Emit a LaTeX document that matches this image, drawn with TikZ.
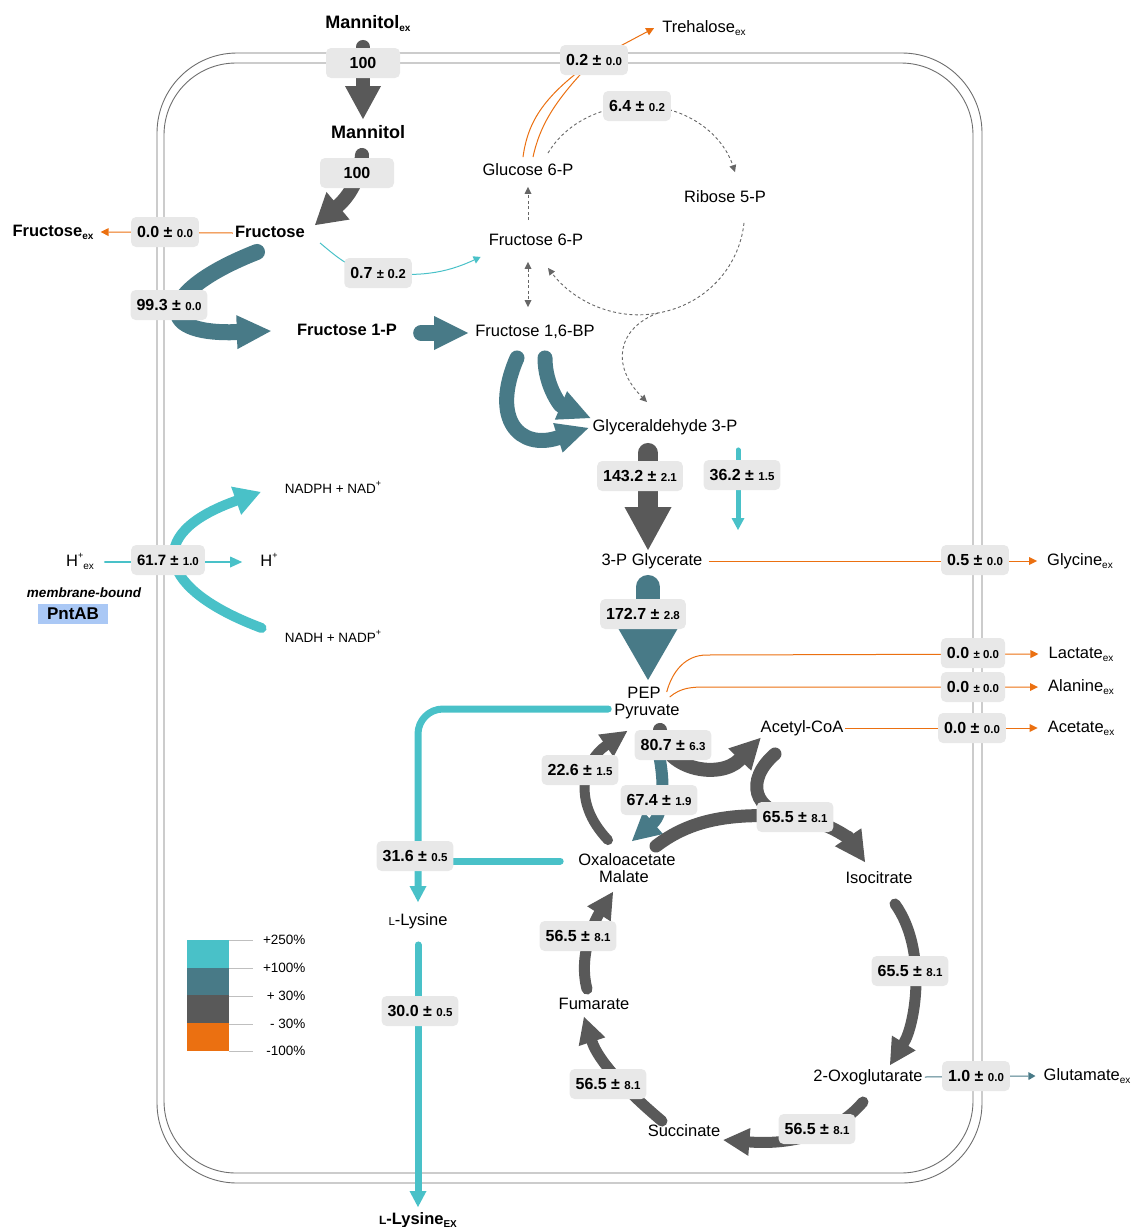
\documentclass[tikz,border=0pt]{standalone}
\usepackage{fontspec}
\setmainfont{Liberation Sans}
\usetikzlibrary{arrows.meta,calc,positioning}
\definecolor{flowgray}{RGB}{89,89,89}
\definecolor{flowteal}{RGB}{72,122,135}
\definecolor{flowcyan}{RGB}{73,193,200}
\definecolor{floworange}{RGB}{235,112,17}
\definecolor{boxgray}{RGB}{232,232,232}
\definecolor{pntblue}{RGB}{170,200,245}
\definecolor{wallgray}{RGB}{110,110,110}
\newcommand{\lo}[1]{\raisebox{-0.35ex}{\fontsize{10}{10}\selectfont #1}}
\newcommand{\hi}[1]{\raisebox{0.9ex}{\fontsize{9}{9}\selectfont #1}}
\newcommand{\fx}[2]{#1 ± {\fontsize{11.5}{12}\selectfont #2}}
\newcommand{\fxs}[2]{#1 {\fontsize{11.5}{12}\selectfont ± #2}}
\tikzset{
    metab/.style={
        inner sep=2pt,
        text height=12pt,
        text depth=3.5pt,
        font=\fontsize{16.5}{18}\selectfont
    },
    metabbold/.style={
        metab,
        font=\bfseries\fontsize{16.5}{18}\selectfont
    },
    metabbig/.style={
        metab,
        font=\bfseries\fontsize{18}{20}\selectfont
    },
    cofactor/.style={
        metab,
        font=\fontsize{13.5}{15}\selectfont
    },
    fluxbox/.style={
        fill=boxgray,
        rounded corners=5pt,
        minimum height=30pt,
        inner xsep=6pt,
        inner ysep=0pt,
        font=\bfseries\fontsize{16}{18}\selectfont
    },
    fathead/.style 2 args={-{Triangle[width=#1,length=#2,line width=0pt]}},
    grayflow/.style={flowgray, line cap=round},
    tealflow/.style={flowteal, line cap=round},
    cyanflow/.style={flowcyan, line cap=round},
    thinorange/.style={floworange, line width=1pt, fathead={8pt}{8pt}},
    dashflow/.style={black!60, line width=0.9pt, dash pattern=on 3pt off 2.5pt},
    membrane/.style={wallgray, line width=0.9pt}
}
\begin{document}
\begin{tikzpicture}[x=1pt,y=1pt]
    \useasboundingbox (0,0) rectangle (1131,-1227);

    % Cell envelope
    \draw[membrane, rounded corners=80pt] (157,-53) rectangle (982,-1183);
    \draw[membrane, rounded corners=72pt] (164,-63) rectangle (973,-1173);

    % Metabolites
    \node[metabbig] (manex) at (368,-24) {Mannitol\lo{ex}};
    \node[metabbig] (man) at (368,-134) {Mannitol};
    \node[metabbold] (fru) at (270,-233) {Fructose};
    \node[metabbold] (fruex) at (53,-232) {Fructose\lo{ex}};
    \node[metabbold] (fr1p) at (347,-331) {Fructose 1-P};
    \node[metab] (f16bp) at (535,-332) {Fructose 1,6-BP};
    \node[metab] (f6p) at (536,-241) {Fructose 6-P};
    \node[metab] (g6p) at (528,-171) {Glucose 6-P};
    \node[metab] (r5p) at (725,-198) {Ribose 5-P};
    \node[metab] (trehex) at (704,-28) {Trehalose\lo{ex}};
    \node[metab] (ga3p) at (665,-427) {Glyceraldehyde 3-P};
    \node[metab] (pg3) at (652,-561) {3-P Glycerate};
    \node[metab] (glyex) at (1080,-561) {Glycine\lo{ex}};
    \node[metab] (pep) at (644,-694) {PEP};
    \node[metab] (pyr) at (647,-711) {Pyruvate};
    \node[metab] (lacex) at (1081,-654) {Lactate\lo{ex}};
    \node[metab] (alaex) at (1081,-687) {Alanine\lo{ex}};
    \node[metab] (accoa) at (802,-728) {Acetyl-CoA};
    \node[metab] (acex) at (1081,-728) {Acetate\lo{ex}};
    \node[metab] (oaa) at (627,-861) {Oxaloacetate};
    \node[metab] (mal) at (624,-878) {Malate};
    \node[metab] (iso) at (879,-879) {Isocitrate};
    \node[metab] (og) at (868,-1077) {2-Oxoglutarate};
    \node[metab] (succ) at (684,-1132) {Succinate};
    \node[metab] (fum) at (594,-1005) {Fumarate};
    \node[metab] (gluex) at (1087,-1076) {Glutamate\lo{ex}};
    \node[metab] (lys) at (418,-921) {{\fontsize{11.5}{12}\selectfont L}-Lysine};
    \node[metabbold] (lysex) at (418,-1220) {{\fontsize{12}{12}\selectfont L}-Lysine\lo{EX}};

    % Transhydrogenase
    \node[metab] (hex) at (80,-562) {H\hi{+}\lo{ex}};
    \node[metab] (hin) at (269,-562) {H\hi{+}};
    \node[cofactor] (nadph) at (333,-489) {NADPH + NAD\hi{+}};
    \node[cofactor] (nadh) at (333,-638) {NADH + NADP\hi{+}};
    \node[font=\bfseries\itshape\fontsize{13.5}{15}\selectfont] (memb) at (84,-593) {membrane-bound};
    \node[fill=pntblue, minimum width=70pt, minimum height=20pt, inner sep=0pt,
          font=\bfseries\fontsize{17}{18}\selectfont] (pnt) at (73,-614) {PntAB};

    % Box positions
    \coordinate (c07) at (378,-273);
    \coordinate (c02) at (594,-60);
    \coordinate (c64) at (637,-106);
    \coordinate (c655) at (795,-817);
    \coordinate (c316) at (415,-856);
    \coordinate (pppjoin) at (658,-313);
    \coordinate (gsink) at (738,-530);

    % Uptake and upper glycolysis
    \draw[grayflow, line width=14pt, fathead={36pt}{33pt}] ($(manex.south)+(-5,-13)$) -- ($(man.north)+(-5,5)$);
    \draw[grayflow, line width=14pt, fathead={36pt}{30pt}] ($(man.south)+(-6,-11)$) to[out=-95,in=40] ($(fru.north east)+(8,-2)$);
    \draw[thinorange] (fru.west) -- ($(fruex.east)+(5,0)$);
    \draw[flowcyan, line width=1pt, fathead={8pt}{7pt}] ($(fru.south east)+(13,0)$) to[out=-40,in=175] (c07) to[out=-5,in=205] ($(f6p.south west)+(-6,-6)$);
    \draw[tealflow, line width=16pt, fathead={34pt}{34pt}] ($(fru.south)+(-13,-9)$) .. controls (160,-290) and (150,-335) .. ($(fr1p.west)+(-24,0)$);
    \draw[tealflow, line width=16pt, fathead={34pt}{34pt}] ($(fr1p.east)+(22,-2)$) -- ($(f16bp.west)+(-5,-1)$);
    \draw[tealflow, line width=15pt, fathead={31pt}{32pt}] ($(f16bp.south)+(-18,-16)$) .. controls (490,-420) and (520,-450) .. ($(ga3p.west)+(-2,-1)$);
    \draw[tealflow, line width=15pt, fathead={31pt}{32pt}] ($(f16bp.south)+(10,-16)$) .. controls (545,-385) and (560,-405) .. ($(ga3p.west)+(0,9)$);

    % Pentose phosphate and trehalose
    \draw[dashflow, fathead={7pt}{7pt}] ($(f6p.north)+(-8,11)$) -- ($(g6p.south)+(0,-6)$);
    \draw[dashflow, {Triangle[width=7pt,length=7pt,line width=0pt]}-{Triangle[width=7pt,length=7pt,line width=0pt]}] ($(f6p.south)+(-8,-11)$) -- ($(f16bp.north)+(-7,15)$);
    \draw[dashflow, fathead={7pt}{7pt}] ($(g6p.north)+(20,8)$) .. controls (566,-123) and (601,-106) .. (c64) .. controls (680,-104) and (721,-130) .. ($(r5p.north)+(10,16)$);
    \draw[dashflow, fathead={7pt}{7pt}] ($(r5p.south)+(19,-15)$) .. controls (739,-269) and (704,-305) .. (pppjoin) .. controls (616,-321) and (574,-302) .. ($(f6p.south)+(12,-17)$);
    \draw[dashflow, fathead={7pt}{7pt}] (pppjoin) .. controls (618,-328) and (610,-365) .. ($(ga3p.north)+(-18,15)$);
    \draw[floworange, line width=1pt] ($(g6p.north)+(-5,4)$) .. controls (528,-120) and (545,-95) .. (c02);
    \draw[floworange, line width=1pt] ($(g6p.north)+(5,4)$) .. controls (540,-125) and (555,-100) .. (c02);
    \draw[thinorange] (c02) -- ($(trehex.west)+(-6,0)$);

    % Lower glycolysis
    \draw[grayflow, line width=20pt, fathead={47pt}{43pt}] ($(ga3p.south)+(-17,-16)$) -- ($(pg3.north)+(-4,1)$);
    \draw[cyanflow, line width=5pt, fathead={13pt}{12pt}] ($(ga3p.south)+(73,-13)$) -- (gsink);
    \draw[thinorange] ($(pg3.east)+(4,0)$) -- ($(glyex.west)+(-8,0)$);
    \draw[tealflow, line width=24pt, fathead={60pt}{52pt}] ($(pg3.south)+(-4,-16)$) -- ($(pep.north)+(4,4)$);
    \draw[thinorange] ($(pep.east)+(4,2)$) to[out=75,in=180] ++(40,37) -- ($(lacex.west)+(-8,0)$);
    \draw[thinorange] ($(pep.east)+(7,-3)$) to[out=40,in=180] ++(37,10) -- ($(alaex.west)+(-8,0)$);
    \draw[thinorange] (accoa.east) -- ($(acex.west)+(-8,0)$);

    % Pyruvate node
    \draw[tealflow, line width=12pt, fathead={30pt}{28pt}] ($(pyr.south)+(8,-17)$) .. controls (668,-785) and (662,-815) .. ($(oaa.north)+(5,10)$);
    \draw[grayflow, line width=14pt, fathead={32pt}{30pt}] ($(pyr.south)+(13,-9)$) .. controls (662,-770) and (720,-780) .. ($(accoa.south west)+(2,0)$);
    \draw[grayflow, line width=10pt, fathead={27pt}{26pt}] ($(oaa.north)+(-19,11)$) .. controls (570,-800) and (585,-760) .. ($(pyr.south west)+(15,-10)$);
    \draw[grayflow, line width=13pt] ($(oaa.north)+(29,5)$) .. controls (690,-820) and (730,-812) .. (c655);
    \draw[grayflow, line width=13pt, fathead={32pt}{30pt}] ($(accoa.south)+(-27,-16)$) .. controls (745,-780) and (752,-812) .. (c655) .. controls (830,-822) and (850,-840) .. ($(iso.north)+(-14,7)$);

    % Lysine branch
    \draw[cyanflow, line width=7pt, rounded corners=25pt, fathead={17pt}{16pt}] ($(pyr.west)+(-4,2)$) -| ($(lys.north)+(0,9)$);
    \draw[cyanflow, line width=7pt] ($(oaa.west)+(-16,0)$) -- (oaa.west -| c316);
    \draw[cyanflow, line width=7pt, fathead={17pt}{16pt}] ($(lys.south)+(0,-14)$) -- ($(lysex.north)+(0,3)$);

    % TCA cycle
    \draw[grayflow, line width=11pt, fathead={28pt}{26pt}] ($(iso.south)+(16,-15)$) .. controls (928,-950) and (915,-1025) .. ($(og.north)+(22,2)$);
    \draw[grayflow, line width=11pt, fathead={28pt}{26pt}] ($(og.south)+(-5,-15)$) .. controls (835,-1135) and (790,-1145) .. ($(succ.east)+(1,-8)$);
    \draw[grayflow, line width=11pt, fathead={28pt}{26pt}] ($(succ.north)+(-22,1)$) .. controls (625,-1090) and (598,-1060) .. ($(fum.south)+(-10,-2)$);
    \draw[grayflow, line width=11pt, fathead={28pt}{26pt}] ($(fum.north)+(-7,6)$) .. controls (578,-955) and (595,-920) .. ($(mal.south)+(-11,-4)$);
    \draw[flowteal, line width=1pt, fathead={8pt}{7pt}] (og.east) -- ($(gluex.west)+(-6,0)$);

    % PntAB
    \draw[cyanflow, line width=2.5pt, fathead={11pt}{12pt}] ($(hex.east)+(9,0)$) -- ($(hin.west)+(-16,0)$);
    \draw[cyanflow, line width=10pt, fathead={30pt}{26pt}] ($(nadh.west)+(-21,10)$) .. controls (160,-590) and (140,-535) .. ($(nadph.west)+(-22,-3)$);

    % Flux values
    \node[fluxbox, minimum width=74pt] (b100a) at (363,-63) {100};
    \node[fluxbox, minimum width=74pt] (b100b) at (357,-173) {100};
    \node[fluxbox] (b00a) at (165,-232) {\fx{0.0}{0.0}};
    \node[fluxbox] (b07) at (c07) {0.7 {\fontsize{13}{14}\selectfont ± 0.2}};
    \node[fluxbox] (b993) at (169,-305) {\fx{99.3}{0.0}};
    \node[fluxbox] (b02) at (c02) {\fx{0.2}{0.0}};
    \node[fluxbox] (b64) at (c64) {\fx{6.4}{0.2}};
    \node[fluxbox] (b1432) at (640,-476) {\fx{143.2}{2.1}};
    \node[fluxbox] (b362) at (742,-475) {\fx{36.2}{1.5}};
    \node[fluxbox] (b05) at (975,-560) {\fx{0.5}{0.0}};
    \node[fluxbox] (b1727) at (643,-614) {\fx{172.7}{2.8}};
    \node[fluxbox] (b00l) at (973,-653) {\fxs{0.0}{0.0}};
    \node[fluxbox] (b00al) at (973,-687) {\fxs{0.0}{0.0}};
    \node[fluxbox] (b00ac) at (972,-728) {\fx{0.0}{0.0}};
    \node[fluxbox] (b807) at (673,-745) {\fx{80.7}{6.3}};
    \node[fluxbox] (b226) at (580,-770) {\fx{22.6}{1.5}};
    \node[fluxbox] (b674) at (659,-800) {\fx{67.4}{1.9}};
    \node[fluxbox] (b655a) at (c655) {\fx{65.5}{8.1}};
    \node[fluxbox] (b316) at (c316) {\fx{31.6}{0.5}};
    \node[fluxbox] (b300) at (420,-1011) {\fx{30.0}{0.5}};
    \node[fluxbox] (b655b) at (910,-971) {\fx{65.5}{8.1}};
    \node[fluxbox] (b565a) at (817,-1129) {\fx{56.5}{8.1}};
    \node[fluxbox] (b565b) at (608,-1084) {\fx{56.5}{8.1}};
    \node[fluxbox] (b565c) at (578,-936) {\fx{56.5}{8.1}};
    \node[fluxbox] (b10) at (976,-1076) {\fx{1.0}{0.0}};
    \node[fluxbox, font=\bfseries\fontsize{15}{16}\selectfont] (b617) at (168,-560) {\fx{61.7}{1.0}};

    % Legend
    \foreach \c/\top/\bot in {flowcyan/940/968, flowteal/968/995, flowgray/995/1023, floworange/1023/1051}
        \fill[\c] (187,-\top) rectangle (229,-\bot);
    \foreach \y/\txt [count=\i] in {940/+250\%, 968/+100\%, 996/+ 30\%, 1024/- 30\%, 1051/-100\%} {
        \draw[black!25, line width=0.8pt] (229,-\y) -- (253,-\y);
        \node[anchor=east, font=\fontsize{13.5}{15}\selectfont] (leg\i) at (309,-\y) {\txt};
    }
\end{tikzpicture}
\end{document}
